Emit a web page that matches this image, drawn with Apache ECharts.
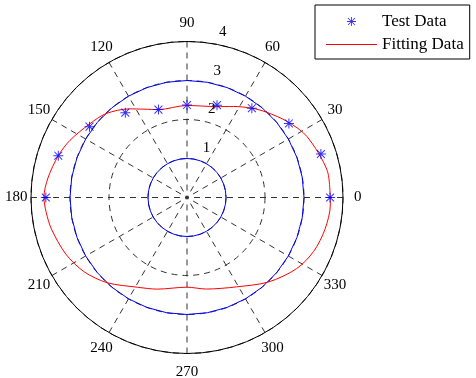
<!DOCTYPE html>
<html><head><meta charset="utf-8">
<script src="https://cdn.jsdelivr.net/npm/echarts@6/dist/echarts.min.js"></script>
<style>html,body{margin:0;padding:0;background:#fff}#c{width:476px;height:378px}</style>
</head><body><div id="c"></div>
<script>
// Test data (angle in degrees, radius)
const testAngles = [0, 18, 36, 54, 72, 90, 108, 126, 144, 162, 180];
const testValues = [3.67, 3.61, 3.23, 2.83, 2.49, 2.37, 2.37, 2.69, 3.09, 3.47, 3.62];
// Fitting curve
const fitAngles = [0, 11, 27, 37, 47, 54, 63, 72, 90, 108, 116, 123, 134, 143, 154, 162, 172, 180, 186, 193, 205, 216, 227, 241, 252, 270, 282, 299, 314, 327, 337, 347, 357, 360];
const fitValues = [3.67, 3.66, 3.45, 3.23, 2.99, 2.83, 2.62, 2.45, 2.36, 2.37, 2.52, 2.71, 2.99, 3.13, 3.34, 3.47, 3.60, 3.67, 3.63, 3.57, 3.43, 3.25, 2.99, 2.63, 2.47, 2.30, 2.40, 2.62, 3.01, 3.35, 3.53, 3.63, 3.68, 3.67];
// Reference circles (blue)
const circleAngles = [0,10,20,30,40,50,60,70,80,90,100,110,120,130,140,150,160,170,180,190,200,210,220,230,240,250,260,270,280,290,300,310,320,330,340,350,360];
const innerCircleR = 1;
const outerCircleR = 3;
// Axis ticks
const radiusTicks = [1, 2, 3, 4];
const angleTicks = [0, 30, 60, 90, 120, 150, 180, 210, 240, 270, 300, 330];

const FONT = 'Liberation Serif, Times New Roman, serif';
const starArms = 'M9,0L11,0L11,20L9,20Z M0,9L20,9L20,11L0,11Z M1.4,2.8L2.8,1.4L18.6,17.2L17.2,18.6Z M17.2,1.4L18.6,2.8L2.8,18.6L1.4,17.2Z';
const star = 'path://' + starArms;
const legendStar = 'path://M-8,-8Z M28,28Z ' + starArms;
const CX = 187, CY = 197.5;

const chart = echarts.init(document.getElementById('c'), null, {renderer: 'canvas'});
const option = {
  animation: false,
  backgroundColor: '#fff',
  polar: {center: [CX, CY], radius: 156},
  angleAxis: {
    type: 'value', min: 0, max: 360, interval: 30, startAngle: 0, clockwise: false,
    axisLine: {show: true, lineStyle: {color: '#000', width: 1}},
    axisTick: {show: false},
    axisLabel: {show: false},
    splitLine: {show: true, lineStyle: {color: '#333', width: 1, type: [6, 5]}}
  },
  radiusAxis: {
    type: 'value', min: 0, max: 4, interval: 1,
    axisLine: {show: false}, axisTick: {show: false}, axisLabel: {show: false},
    splitLine: {show: true, lineStyle: {color: '#333', width: 1, type: [6, 5]}}
  },
  legend: {
    orient: 'vertical', left: 315, top: 5,
    padding: [8, 6, 6, 11], itemGap: 6, itemWidth: 51, itemHeight: 16,
    borderColor: '#000', borderWidth: 1, borderRadius: 0, backgroundColor: '#fff',
    textStyle: {color: '#000', fontFamily: FONT, fontSize: 17},
    data: [
      {name: 'Test Data', icon: legendStar, itemStyle: {color: '#0000ff'}},
      {name: 'Fitting Data', icon: 'path://M0,0L100,0L100,2L0,2Z', itemStyle: {color: '#ff0000'}}
    ]
  },
  series: [
    {type: 'line', name: 'c1', coordinateSystem: 'polar', symbol: 'none', silent: true,
      lineStyle: {color: '#0000ff', width: 1}, data: circleAngles.map(a => [innerCircleR, a])},
    {type: 'line', name: 'c3', coordinateSystem: 'polar', symbol: 'none', silent: true,
      lineStyle: {color: '#0000ff', width: 1}, data: circleAngles.map(a => [outerCircleR, a])},
    {type: 'line', name: 'Fitting Data', coordinateSystem: 'polar', symbol: 'none', smooth: 0.3,
      lineStyle: {color: '#ff0000', width: 1}, itemStyle: {color: '#ff0000'},
      data: fitAngles.map((a, i) => [fitValues[i], a])},
    {type: 'scatter', name: 'Test Data', coordinateSystem: 'polar', symbol: star, symbolSize: 10,
      itemStyle: {color: '#0000ff'}, z: 5,
      data: testAngles.map((a, i) => [testValues[i], a])}
  ]
};
chart.setOption(option);
const graphics = [];
// radius tick labels along ~82 degrees
radiusTicks.forEach(r => {
  const p = chart.convertToPixel({seriesIndex: 0}, [r, 82]);
  graphics.push({type: 'text', x: p[0] + 14, y: p[1] - 11, z: 10,
    style: {text: String(r), fill: '#000', font: '15px ' + FONT, textAlign: 'center', textVerticalAlign: 'middle'}});
});
// angle tick labels centred just outside the outer ring
angleTicks.forEach(a => {
  const p = chart.convertToPixel({seriesIndex: 0}, [4.38, a]);
  graphics.push({type: 'text', x: p[0], y: CY + (p[1] - CY) * 1.02, z: 10,
    style: {text: String(a), fill: '#000', font: '15px ' + FONT, textAlign: 'center', textVerticalAlign: 'middle'}});
});
chart.setOption({graphic: graphics});
</script></body></html>
